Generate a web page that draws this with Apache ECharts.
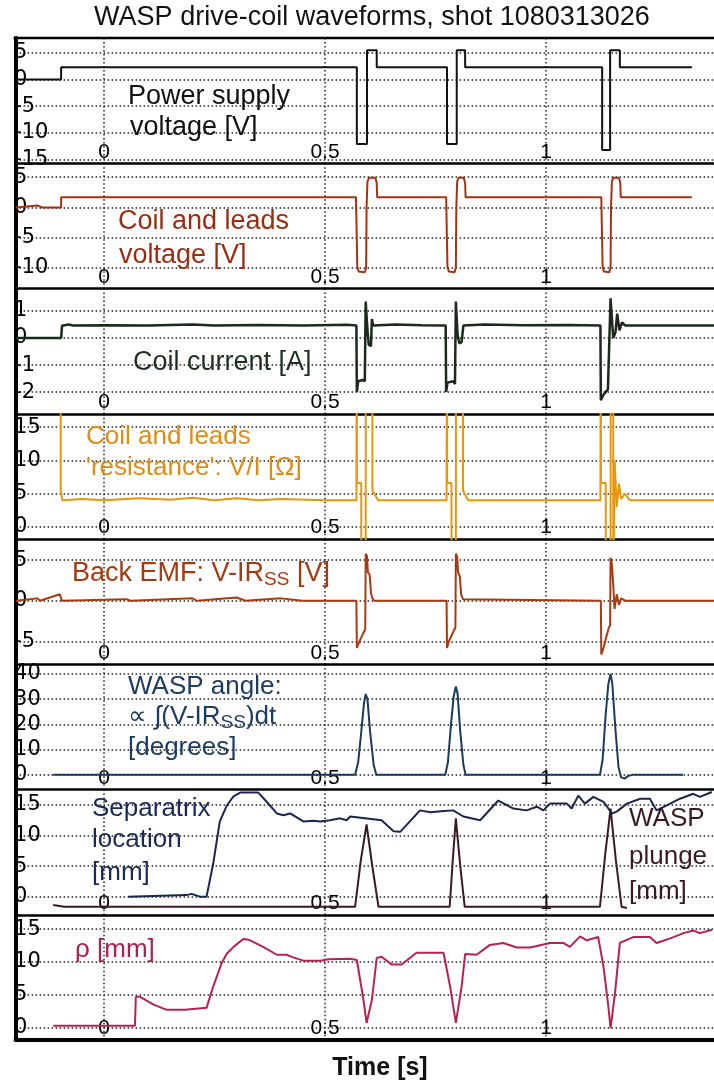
<!DOCTYPE html>
<html><head><meta charset="utf-8">
<script src="https://cdn.jsdelivr.net/npm/echarts@6/dist/echarts.min.js"></script>
<style>html,body{margin:0;padding:0;background:#fff}#c{width:714px;height:1084px}</style>
</head><body><div id="c"></div>
<script>
// ---------- DATA (time in s) ----------
const timeTicks = [0, 0.5, 1];
const timeTickLabels = ['0', '0.5', '1'];

const supplyVoltage = [[-0.2,0],[-0.097,0],[-0.097,2.3],[0.572,2.3],[0.572,-12.1],[0.595,-12.1],[0.595,5.5],[0.617,5.5],[0.617,2.3],
  [0.776,2.3],[0.776,-12.1],[0.798,-12.1],[0.798,5.5],[0.817,5.5],[0.817,2.3],
  [1.127,2.3],[1.127,-13.2],[1.145,-13.2],[1.145,5.5],[1.167,5.5],[1.167,2.3],[1.33,2.3]];
const supplyTicks = [5,0,-5,-10,-15];

const coilVoltage = [[-0.2,0],[-0.15,0.3],[-0.14,0],[-0.097,0],[-0.097,1.7],[0.570,1.7],[0.573,-9.8],[0.576,-10.6],[0.590,-10.7],[0.593,-10.0],[0.594,0],[0.596,4.3],[0.600,4.9],[0.614,4.9],[0.617,4.0],[0.618,1.7],
  [0.774,1.7],[0.777,-9.8],[0.780,-10.6],[0.793,-10.7],[0.796,-10.0],[0.797,0],[0.799,4.3],[0.802,4.9],[0.814,4.9],[0.817,4.0],[0.818,1.7],
  [1.125,1.7],[1.128,-9.8],[1.131,-10.6],[1.143,-10.7],[1.146,-10.0],[1.147,0],[1.149,4.3],[1.152,4.9],[1.165,4.9],[1.168,4.0],[1.169,1.7],[1.33,1.7]];
const coilVoltageTicks = [5,0,-5,-10];

const coilCurrent = [[-0.2,0],[-0.097,0],[-0.095,0.45],[-0.08,0.5],[-0.07,0.46],[0.0,0.47],[0.1,0.46],[0.2,0.5],[0.25,0.46],[0.35,0.48],[0.45,0.46],[0.55,0.49],[0.571,0.46],
  [0.572,-2.0],[0.575,-1.6],[0.585,-1.55],[0.590,-1.6],[0.592,1.35],[0.596,0.3],[0.599,-0.25],[0.604,-0.3],[0.606,0.7],[0.609,0.46],[0.66,0.5],[0.72,0.47],
  [0.773,0.46],[0.774,-2.0],[0.777,-1.65],[0.790,-1.6],[0.794,-1.7],[0.796,1.35],[0.800,0.1],[0.804,-0.2],[0.809,-0.15],[0.813,0.46],[0.86,0.5],[0.95,0.47],[1.05,0.48],
  [1.123,0.46],[1.124,-2.3],[1.130,-2.1],[1.140,-1.9],[1.144,-1.9],[1.146,1.47],[1.152,0.0],[1.157,0.2],[1.161,0.9],[1.166,0.28],[1.172,0.58],[1.179,0.46],[1.38,0.46]];
const coilCurrentTicks = [1,0,-1,-2];

const resistance = [[-0.098,40],[-0.098,5.5],[-0.094,4.0],[-0.05,4.2],[0.0,4.0],[0.08,4.3],[0.15,4.1],[0.2,4.4],[0.25,4.0],[0.3,4.3],[0.35,4.0],[0.4,4.2],[0.5,4.0],[0.571,4.0],
  [0.572,40],[0.5722,6.6],[0.582,6.6],[0.5822,-10],[0.592,-10],[0.5922,40],[0.607,40],[0.6072,5.5],[0.612,5],[0.62,4.0],
  [0.775,4.0],[0.776,40],[0.7762,6.6],[0.786,6.6],[0.7862,-10],[0.796,-10],[0.7962,40],[0.812,40],[0.8122,5.5],[0.816,5],[0.824,4.0],
  [1.123,4.0],[1.124,40],[1.1242,6.6],[1.135,6.6],[1.1352,-10],[1.146,-10],[1.1462,40],[1.152,40],[1.1522,-10],[1.155,-10],[1.1552,10],[1.160,3],[1.165,6.5],[1.170,4.2],[1.178,5],[1.19,4.0],[1.38,4.0]];
const resistanceTicks = [15,10,5,0];

const backEmf = [[-0.2,0],[-0.15,0.3],[-0.145,0],[-0.1,0.8],[-0.095,0],[0.05,0.2],[0.06,0],[0.2,0.3],[0.21,0],[0.3,0.4],[0.32,0],[0.4,0.3],[0.45,0],[0.571,0],
  [0.572,-5.8],[0.576,-5.2],[0.582,-4.5],[0.588,-3.8],[0.591,-3.5],[0.592,5.8],[0.595,5.5],[0.597,3.5],[0.601,3.2],[0.604,1.0],[0.607,0.3],[0.612,0],
  [0.775,0],[0.776,-5.8],[0.780,-5.0],[0.786,-4.3],[0.792,-3.6],[0.795,-3.3],[0.796,5.8],[0.799,5.4],[0.801,3.5],[0.805,3.0],[0.808,0.8],[0.812,0.2],[0.816,0],
  [1.124,0],[1.125,-6.6],[1.130,-5.8],[1.136,-4.5],[1.142,-3.3],[1.145,-3.0],[1.146,5.3],[1.149,4.5],[1.152,2.0],[1.155,-1.0],[1.160,0.8],[1.165,-0.5],[1.170,0.3],[1.18,0],[1.38,0]];
const backEmfTicks = [5,0,-5];

const waspAngle = [[-0.115,0],[0.568,0],[0.575,5],[0.582,17],[0.588,28],[0.592,32],[0.596,30],[0.602,17],[0.610,4],[0.616,0],
  [0.772,0],[0.778,5],[0.785,20],[0.791,31],[0.796,35],[0.800,32],[0.806,17],[0.813,4],[0.818,0],
  [1.122,0],[1.128,6],[1.135,24],[1.141,36],[1.146,40],[1.150,36],[1.157,18],[1.164,3],[1.170,-1],[1.178,-1.5],[1.185,-0.5],[1.195,0],[1.31,0]];
const waspAngleTicks = [40,30,20,10,0];

const separatrix = [[0.055,0.05],[0.187,0.3],[0.198,0.5],[0.217,0.05],[0.232,0.05],[0.247,5.4],[0.262,12.3],[0.278,14.9],[0.293,16.4],[0.308,17.0],[0.349,17.0],[0.368,15.5],[0.391,13.6],[0.406,13.3],[0.421,13.6],[0.451,12.3],[0.474,12.4],[0.489,12.3],[0.511,12.5],[0.534,12.8],[0.549,12.5],[0.557,13.1],
  [0.628,12.5],[0.655,10.7],[0.670,10.6],[0.715,14.1],[0.738,13.8],[0.768,14.0],[0.790,14.1],[0.813,13.1],[0.851,12.5],[0.892,15.7],[0.926,14.4],[0.956,14.1],[0.979,14.7],[0.994,14.1],[1.009,15.2],[1.047,15.2],[1.058,14.4],[1.073,16.5],[1.088,15.2],[1.107,16.3],[1.130,15.5],[1.149,13.6],[1.160,13.9],[1.183,15.2],[1.213,16.0],[1.235,16.0],[1.250,14.1],[1.273,14.9],[1.303,16.0],[1.333,16.8],[1.348,16.3],[1.375,17.1]];
const waspPlunge = [[-0.115,-1.3],[-0.09,-1.6],[0.568,-1.6],[0.581,6],[0.594,11.8],[0.607,5],[0.621,-1.6],
  [0.782,-1.6],[0.789,6],[0.796,12.8],[0.806,5],[0.816,-1.6],
  [1.122,-1.6],[1.134,7],[1.146,14.4],[1.158,6],[1.171,-1.6],[1.183,-1.8]];
const plungeTicks = [15,10,5,0];

const rho = [[-0.115,0.26],[0.070,0.26],[0.072,4.7],[0.081,4.7],[0.112,3.5],[0.142,2.7],[0.183,2.7],[0.187,3.0],[0.232,3.0],[0.247,6.25],[0.266,9.8],[0.278,11.3],[0.293,12.3],[0.315,13.5],[0.327,13.4],[0.360,12.3],[0.391,11.1],[0.413,11.1],[0.428,10.7],[0.451,10.2],[0.489,10.2],[0.508,10.4],[0.557,10.5],
  [0.572,10.3],[0.587,4.2],[0.594,0.7],[0.606,4.2],[0.617,10.6],[0.628,10.8],[0.651,9.6],[0.673,9.6],[0.707,11.4],[0.768,11.4],[0.783,6.25],[0.796,0.7],[0.809,6.25],[0.817,11.2],[0.843,11.1],[0.873,12.6],[0.903,12.9],[0.934,12.2],[0.964,12.2],[1.009,12.9],[1.039,12.9],[1.054,12.3],[1.077,13.9],[1.092,13.3],[1.118,13.8],
  [1.130,9.3],[1.141,3.2],[1.146,-0.1],[1.156,5.2],[1.167,12.9],[1.197,13.8],[1.235,13.8],[1.250,12.9],[1.281,13.6],[1.311,14.4],[1.333,14.8],[1.348,14.4],[1.375,14.9]];
const rhoTicks = [15,10,5,0];

// ---------- LAYOUT ----------
const T_MIN = -0.2, T_MAX = 1.38;
const PANEL_TOP = 38, PANEL_H = 125.25, LEFT = 15.6;
const FONT = '"Liberation Sans", Arial, sans-serif';
const TICK_FONT = '"DejaVu Sans", sans-serif';

const panels = [
  {min:-15.7, max:7.8, ticks:supplyTicks, series:[{data:supplyVoltage, color:'#111111', w:2}]},
  {min:-13.4, max:7.3, ticks:coilVoltageTicks, series:[{data:coilVoltage, color:'#a8320f', w:2}]},
  {min:-2.8, max:1.83, ticks:coilCurrentTicks, series:[{data:coilCurrent, color:'#1b2a1b', w:2.5}]},
  {min:-1.8, max:17, ticks:resistanceTicks, series:[{data:resistance, color:'#e8960e', w:2}]},
  {min:-7.8, max:7.6, ticks:backEmfTicks, series:[{data:backEmf, color:'#a83a12', w:2}]},
  {min:-5.8, max:43.8, ticks:waspAngleTicks, series:[{data:waspAngle, color:'#1d3a5c', w:2}]},
  {min:-2.9, max:17.5, ticks:plungeTicks, series:[{data:waspPlunge, color:'#3b1a22', w:2},{data:separatrix, color:'#1a2550', w:2}]},
  {min:-1.9, max:17.2, ticks:rhoTicks, series:[{data:rho, color:'#b8224f', w:2}]}
];

const grids = [], xAxes = [], yAxes = [], series = [];
panels.forEach((p, i) => {
  const last = i === panels.length - 1;
  grids.push({left: LEFT, right: 0, top: PANEL_TOP + i * PANEL_H, height: PANEL_H, show: false});
  xAxes.push({type: 'value', gridIndex: i, min: T_MIN, max: T_MAX,
    axisLine: {show: true, onZero: false, lineStyle: {color: '#000', width: last ? 4 : 2.5}},
    axisTick: {show: false, customValues: timeTicks},
    axisLabel: {show: true, inside: true, margin: 1, customValues: timeTicks,
      formatter: v => timeTickLabels[timeTicks.indexOf(v)] ?? String(v),
      color: '#000', fontSize: 21, fontFamily: FONT},
    splitLine: {show: true, lineStyle: {color: '#222', type: [1.5, 2.5], width: 1.5}}});
  yAxes.push({type: 'value', gridIndex: i, min: p.min, max: p.max,
    axisLine: {show: true, onZero: false, lineStyle: {color: '#000', width: 4}},
    axisTick: {show: false, customValues: p.ticks},
    axisLabel: {show: true, inside: true, margin: -1.5, customValues: p.ticks,
      color: '#000', fontSize: 21, fontFamily: TICK_FONT, showMinLabel: true, showMaxLabel: true},
    splitLine: {show: true, lineStyle: {color: '#222', type: [1.5, 2.5], width: 1.5}}});
  p.series.forEach(s => series.push({type: 'line', xAxisIndex: i, yAxisIndex: i, data: s.data,
    showSymbol: false, symbol: 'none', clip: true, animation: false, z: 3,
    lineStyle: {color: s.color, width: s.w}}));
});

function txt(text, x, y, color, size, extra) {
  return Object.assign({type: 'text', x: x, y: y, z: 100,
    style: Object.assign({text: text, fill: color, fontSize: size, fontFamily: FONT,
      verticalAlign: 'middle', align: 'left',
      rich: {s: {fontSize: Math.round(size * 0.72), fontFamily: FONT, fill: color, padding: [12, 0, 0, 0]}}}, extra || {})});
}

const graphics = [
  {type: 'line', z: 50, shape: {x1: 13.6, y1: PANEL_TOP, x2: 714, y2: PANEL_TOP}, style: {stroke: '#000', lineWidth: 2.5}},
  txt('WASP drive-coil waveforms, shot 1080313026', 372, 18, '#111', 27, {align: 'center'}),
  txt('Time [s]', 380, 1068, '#111', 25, {align: 'center', fontWeight: 'bold'}),
  txt('Power supply', 128, 97, '#111', 27),
  txt('voltage [V]', 130, 128, '#111', 27),
  txt('Coil and leads', 118, 222, '#9a2c10', 27),
  txt('voltage [V]', 119, 256, '#9a2c10', 27),
  txt('Coil current [A]', 133, 363, '#1d2f1d', 27),
  txt('Coil and leads', 86, 437, '#e08b12', 26),
  txt("'resistance': V/I [\u03A9]", 86, 468, '#e08b12', 26),
  txt('Back EMF: V-IR{s|SS} [V]', 72, 574, '#a33a12', 27),
  txt('WASP angle:', 128, 687, '#1c3c64', 26),
  txt('\u221D \u222B(V-IR{s|SS})dt', 128, 717, '#1c3c64', 26),
  txt('[degrees]', 128, 748, '#1c3c64', 26),
  txt('Separatrix', 92, 809, '#1a2a55', 26),
  txt('location', 92, 840, '#1a2a55', 26),
  txt('[mm]', 92, 873, '#1a2a55', 26),
  txt('WASP', 629, 819, '#3a1a22', 26),
  txt('plunge', 629, 857, '#3a1a22', 26),
  txt('[mm]', 629, 892, '#3a1a22', 26),
  txt('\u03C1 [mm]', 75, 950, '#b0204a', 26)
];

const chart = echarts.init(document.getElementById('c'), null, {renderer: 'canvas'});
chart.setOption({backgroundColor: '#fff', animation: false,
  grid: grids, xAxis: xAxes, yAxis: yAxes, series: series, graphic: graphics});
</script></body></html>
